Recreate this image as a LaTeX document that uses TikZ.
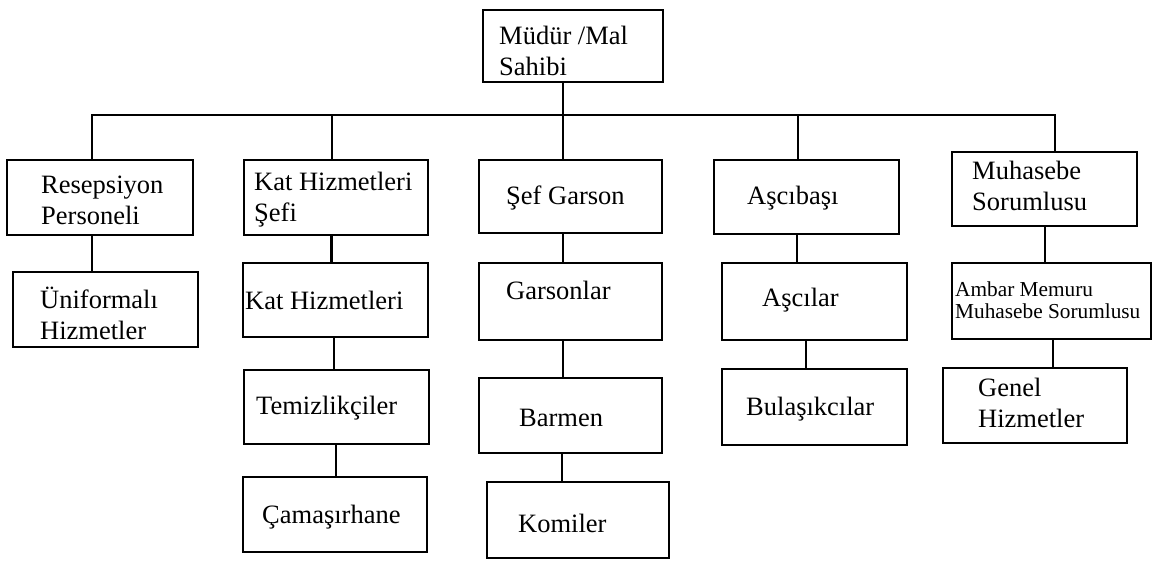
\documentclass[tikz,border=0pt]{standalone}
\usepackage{fontspec}
\setmainfont{Liberation Serif}
\begin{document}
\begin{tikzpicture}[x=1pt,y=-1pt,
  orgbox/.style={draw,line width=2.4pt,inner sep=0pt,rectangle},
  label/.style={anchor=west,inner sep=0pt,align=left,font=\fontsize{26.5}{31}\selectfont},
  smalllabel/.style={anchor=west,inner sep=0pt,align=left,font=\fontsize{21.3}{22.5}\selectfont},
  link/.style={line width=2.4pt}]
\useasboundingbox (0,0) rectangle (1153,560);

% boxes
\node[orgbox,minimum width=180pt,minimum height=72pt] (mudur) at (573,46) {};
\node[orgbox,minimum width=186pt,minimum height=75pt] (resep) at (100,197.5) {};
\node[orgbox,minimum width=185pt,minimum height=75pt] (unif) at (105.5,309.5) {};
\node[orgbox,minimum width=184pt,minimum height=75pt] (katsef) at (336,197.5) {};
\node[orgbox,minimum width=185pt,minimum height=74pt] (kathiz) at (335.5,300) {};
\node[orgbox,minimum width=185pt,minimum height=74pt] (temiz) at (336.5,407) {};
\node[orgbox,minimum width=184pt,minimum height=75pt] (camas) at (335,514.5) {};
\node[orgbox,minimum width=183pt,minimum height=73pt] (sefg) at (570.5,196.5) {};
\node[orgbox,minimum width=183pt,minimum height=77pt] (garson) at (570.5,301.5) {};
\node[orgbox,minimum width=183pt,minimum height=75pt] (barmen) at (570.5,415.5) {};
\node[orgbox,minimum width=182pt,minimum height=76pt] (komi) at (578,520) {};
\node[orgbox,minimum width=185pt,minimum height=74pt] (ascibasi) at (806.5,197) {};
\node[orgbox,minimum width=185pt,minimum height=77pt] (ascilar) at (814.5,301.5) {};
\node[orgbox,minimum width=185pt,minimum height=76pt] (bulas) at (814.5,407) {};
\node[orgbox,minimum width=185pt,minimum height=74pt] (muhas) at (1044.5,189) {};
\node[orgbox,minimum width=199pt,minimum height=76pt] (ambar) at (1051.5,301) {};
\node[orgbox,minimum width=184pt,minimum height=75pt] (genel) at (1035,405.5) {};

% texts
\node[label] (mudur-t) at (499,51) {Müdür /Mal\\Sahibi};
\node[label] (resep-t) at (41,200) {Resepsiyon\\Personeli};
\node[label] (unif-t) at (40,313) {Üniformalı\\Hizmetler};
\node[label] (katsef-t) at (254,200) {Kat Hizmetleri\\Şefi};
\node[label] (kathiz-t) at (245,300) {Kat Hizmetleri};
\node[label] (temiz-t) at (256,408) {Temizlikçiler};
\node[label] (camas-t) at (262,517) {Çamaşırhane};
\node[label] (sefg-t) at (506,198) {Şef Garson};
\node[label] (garson-t) at (506,290) {Garsonlar};
\node[label] (barmen-t) at (519,418) {Barmen};
\node[label] (komi-t) at (518,523) {Komiler};
\node[label] (ascibasi-t) at (747,198) {Aşcıbaşı};
\node[label] (ascilar-t) at (762,300) {Aşcılar};
\node[label] (bulas-t) at (746,409) {Bulaşıkcılar};
\node[label] (muhas-t) at (972,186) {Muhasebe\\Sorumlusu};
\node[smalllabel] (ambar-t) at (955,300) {Ambar Memuru\\Muhasebe Sorumlusu};
\node[label] (genel-t) at (978,403) {Genel\\Hizmetler};

% distribution bus below the top box
\coordinate (busW) at (92,115);
\coordinate (busK) at (332,115);
\coordinate (busA) at (798,115);
\coordinate (busE) at (1055,115);
\draw[link] (resep.north -| busW) -- (busW) -- (busE) -- (muhas.north -| busE);
\draw[link] (busK) -- (katsef.north -| busK);
\draw[link] (busA) -- (ascibasi.north -| busA);
\draw[link] ([xshift=-10pt]mudur.south) -- ([xshift=-7.5pt]sefg.north);

% chains inside each department
\draw[link] ([xshift=-8pt]resep.south) -- ([xshift=-13.5pt]unif.north);
\draw[link] ([xshift=-4.5pt]katsef.south) -- ([xshift=-4pt]kathiz.north);
\draw[link] ([xshift=-1.5pt]kathiz.south) -- ([xshift=-2.5pt]temiz.north);
\draw[link] ([xshift=-0.5pt]temiz.south) -- ([xshift=1pt]camas.north);
\draw[link] ([xshift=-7.5pt]sefg.south) -- ([xshift=-7.5pt]garson.north);
\draw[link] ([xshift=-7.5pt]garson.south) -- ([xshift=-7.5pt]barmen.north);
\draw[link] ([xshift=-8.5pt]barmen.south) -- ([xshift=-16pt]komi.north);
\draw[link] ([xshift=-9.5pt]ascibasi.south) -- ([xshift=-17.5pt]ascilar.north);
\draw[link] ([xshift=-8.5pt]ascilar.south) -- ([xshift=-8.5pt]bulas.north);
\draw[link] ([xshift=0.5pt]muhas.south) -- ([xshift=-6.5pt]ambar.north);
\draw[link] ([xshift=1.5pt]ambar.south) -- ([xshift=18pt]genel.north);
\end{tikzpicture}
\end{document}
